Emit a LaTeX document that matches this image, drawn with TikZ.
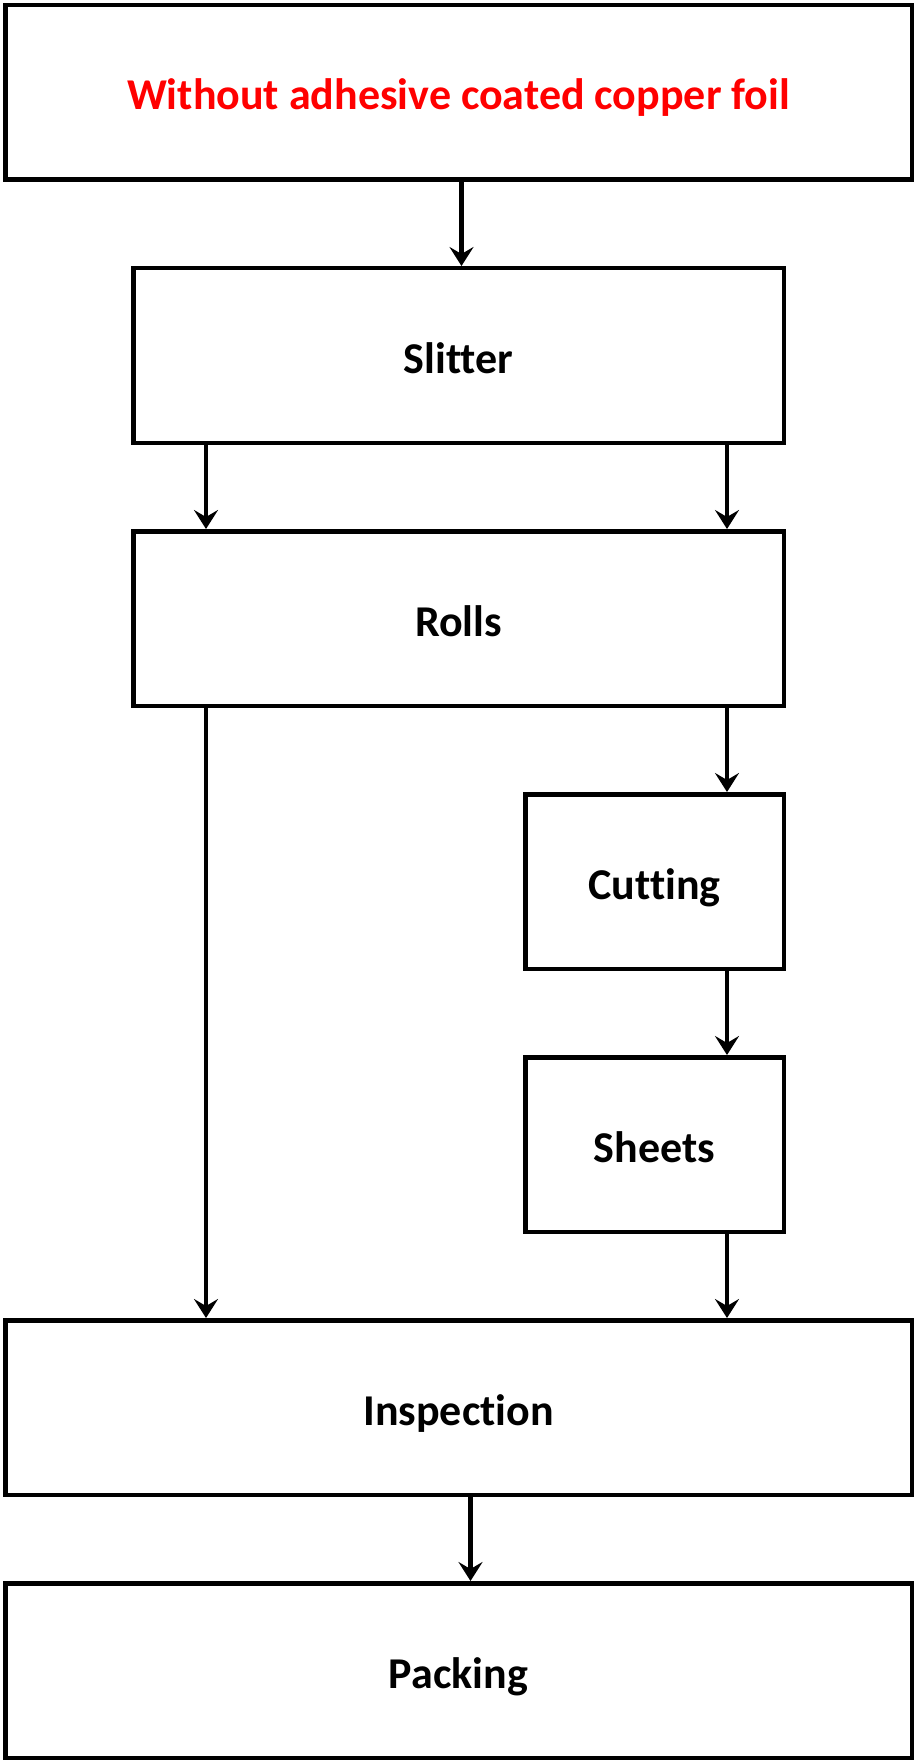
\documentclass[tikz,border=0pt]{standalone}
\usepackage{fontspec}
\setmainfont{Carlito}[Ligatures=NoCommon]
\usetikzlibrary{arrows.meta,positioning}

\begin{document}
\begin{tikzpicture}[->,>={Stealth[length=19pt,width=24pt,inset=7pt]},line width=4.5pt,node distance=84pt,box node/.style={rectangle,draw,minimum height=174.5pt,text height=35pt,text depth=0pt,font=\fontsize{44}{52}\bfseries\selectfont},wide/.style={box node,minimum width=906.5pt},mid/.style={box node,minimum width=650.5pt},narrow/.style={box node,minimum width=258.5pt}]

                \useasboundingbox (0,0) rectangle (916pt,-1760pt);

                \node[wide, text=red] (foil) at (458.5pt,-92.5pt) {Without adhesive coated copper foil};
                \node[mid] (slitter) [below = of foil]{Slitter};
                \node[mid] (rolls) [below = of slitter]{Rolls};
                \node[narrow] (cutting) [below = of rolls.south east, anchor = north east]{Cutting};
                \node[narrow] (sheets) [below = of cutting]{Sheets};

                \coordinate (mark) at (foil |- sheets.south);
                \node[wide] (inspection) [below = of mark]{Inspection};
                \node[wide] (packing) [below = of inspection]{Packing};

                \path
                    ([xshift=3pt]foil.south) edge ([xshift=3pt]slitter.north)
                    ([xshift=75pt]slitter.south west) edge ([xshift=75pt]rolls.north west)
                    ([xshift=-59pt]slitter.south east) edge ([xshift=-59pt]rolls.north east)
                    ([xshift=-59pt]rolls.south east) edge ([xshift=-59pt]cutting.north east)
                    ([xshift=-59pt]cutting.south east) edge ([xshift=-59pt]sheets.north east)
                    ([xshift=-59pt]sheets.south east) edge ([xshift=-59pt]sheets.south east |- inspection.north)
                    ([xshift=75pt]rolls.south west) edge ([xshift=75pt]rolls.south west |- inspection.north)
                    ([xshift=12pt]inspection.south) edge ([xshift=12pt]packing.north)
                ;

            \end{tikzpicture}
\end{document}
